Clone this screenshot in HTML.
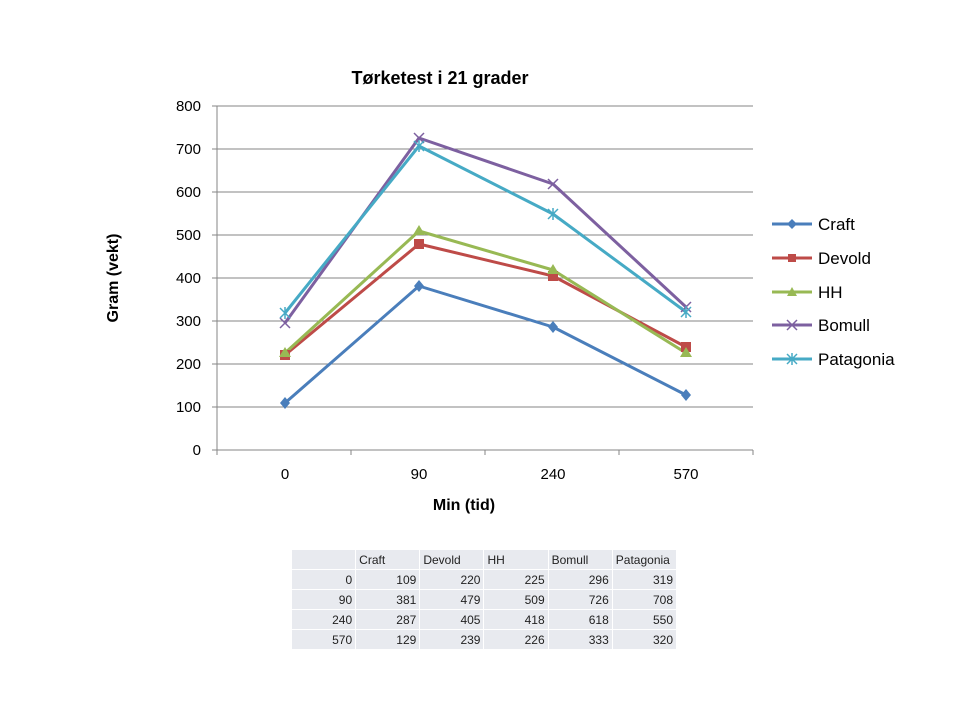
<!DOCTYPE html>
<html><head><meta charset="utf-8"><style>
body{margin:0;background:#fff;width:960px;height:720px;overflow:hidden;font-family:"Liberation Sans",sans-serif}
table{position:absolute;left:291px;top:549px;border-collapse:collapse;font-size:12px;color:#222;table-layout:fixed;width:386px}
td{background:#e8eaef;border:1px solid #fff;height:20px;padding:0 3px;width:64px;text-align:right;box-sizing:border-box}
tr:first-child td{text-align:left}
</style></head><body>
<svg width="960" height="720" style="position:absolute;left:0;top:0" font-family="Liberation Sans, sans-serif">
<text x="440" y="84" text-anchor="middle" font-size="18" font-weight="bold">Tørketest i 21 grader</text>
<g stroke="#868686" stroke-width="1">
<line x1="217" y1="106" x2="753" y2="106"/><line x1="217" y1="149" x2="753" y2="149"/><line x1="217" y1="192" x2="753" y2="192"/><line x1="217" y1="235" x2="753" y2="235"/><line x1="217" y1="278" x2="753" y2="278"/><line x1="217" y1="321" x2="753" y2="321"/><line x1="217" y1="364" x2="753" y2="364"/><line x1="217" y1="407" x2="753" y2="407"/><line x1="212" y1="450" x2="753" y2="450"/>
<line x1="217" y1="106" x2="217" y2="455"/>
<line x1="212" y1="106" x2="217" y2="106"/><line x1="212" y1="149" x2="217" y2="149"/><line x1="212" y1="192" x2="217" y2="192"/><line x1="212" y1="235" x2="217" y2="235"/><line x1="212" y1="278" x2="217" y2="278"/><line x1="212" y1="321" x2="217" y2="321"/><line x1="212" y1="364" x2="217" y2="364"/><line x1="212" y1="407" x2="217" y2="407"/>
<line x1="351" y1="450" x2="351" y2="455"/><line x1="485" y1="450" x2="485" y2="455"/><line x1="619" y1="450" x2="619" y2="455"/><line x1="753" y1="450" x2="753" y2="455"/>
</g>
<g font-size="15" text-anchor="end" fill="#000">
<text x="201" y="111">800</text><text x="201" y="154">700</text><text x="201" y="197">600</text><text x="201" y="240">500</text><text x="201" y="283">400</text><text x="201" y="326">300</text><text x="201" y="369">200</text><text x="201" y="412">100</text><text x="201" y="455">0</text>
</g>
<g font-size="15" text-anchor="middle">
<text x="285" y="479">0</text><text x="419" y="479">90</text><text x="553" y="479">240</text><text x="686" y="479">570</text>
</g>
<text x="464" y="510" text-anchor="middle" font-size="16" font-weight="bold">Min (tid)</text>
<text transform="translate(118,278) rotate(-90)" text-anchor="middle" font-size="16" font-weight="bold">Gram (vekt)</text>
<g fill="none" stroke-width="3" stroke-linejoin="round">
<polyline stroke="#4a7ebb" points="285,403 419,286 553,327 686,395"/>
<polyline stroke="#be4b48" points="285,355 419,244 553,276 686,347"/>
<polyline stroke="#98b954" points="285,353 419,231 553,270 686,353"/>
<polyline stroke="#7d60a0" points="285,323 419,138 553,184 686,307"/>
<polyline stroke="#46aac5" points="285,313 419,146 553,214 686,312"/>
</g>
<g fill="#4a7ebb"><path d="M285 397l5 6-5 6-5-6z"/><path d="M419 280l5 6-5 6-5-6z"/><path d="M553 321l5 6-5 6-5-6z"/><path d="M686 389l5 6-5 6-5-6z"/></g>
<g fill="#be4b48"><rect x="280" y="350" width="10" height="10"/><rect x="414" y="239" width="10" height="10"/><rect x="548" y="271" width="10" height="10"/><rect x="681" y="342" width="10" height="10"/></g>
<g fill="#98b954"><path d="M285 347l6 10h-12z"/><path d="M419 225l6 10h-12z"/><path d="M553 264l6 10h-12z"/><path d="M686 347l6 10h-12z"/></g>
<g stroke="#7d60a0" stroke-width="1.5"><path d="M280 318l10 10M290 318l-10 10M414 133l10 10M424 133l-10 10M548 179l10 10M558 179l-10 10M681 302l10 10M691 302l-10 10"/></g>
<g stroke="#46aac5" stroke-width="1.5"><path d="M280 308l10 10M290 308l-10 10M285 307v12M414 141l10 10M424 141l-10 10M419 140v12M548 209l10 10M558 209l-10 10M553 208v12M681 307l10 10M691 307l-10 10M686 306v12"/></g>
<g font-size="17">
<line x1="772" y1="224" x2="812" y2="224" stroke="#4a7ebb" stroke-width="3"/><path d="M792 219l5 5-5 5-5-5z" fill="#4a7ebb"/><text x="818" y="230">Craft</text>
<line x1="772" y1="258" x2="812" y2="258" stroke="#be4b48" stroke-width="3"/><rect x="788" y="254" width="8" height="8" fill="#be4b48"/><text x="818" y="264">Devold</text>
<line x1="772" y1="292" x2="812" y2="292" stroke="#98b954" stroke-width="3"/><path d="M792 287l5 9h-10z" fill="#98b954"/><text x="818" y="298">HH</text>
<line x1="772" y1="325" x2="812" y2="325" stroke="#7d60a0" stroke-width="3"/><path d="M787 320l10 10M797 320l-10 10" stroke="#7d60a0" stroke-width="1.5"/><text x="818" y="331">Bomull</text>
<line x1="772" y1="359" x2="812" y2="359" stroke="#46aac5" stroke-width="3"/><path d="M787 354l10 10M797 354l-10 10M792 353v12" stroke="#46aac5" stroke-width="1.5"/><text x="818" y="365">Patagonia</text>
</g>
</svg>
<table>
<tr><td></td><td>Craft</td><td>Devold</td><td>HH</td><td>Bomull</td><td>Patagonia</td></tr>
<tr><td>0</td><td>109</td><td>220</td><td>225</td><td>296</td><td>319</td></tr>
<tr><td>90</td><td>381</td><td>479</td><td>509</td><td>726</td><td>708</td></tr>
<tr><td>240</td><td>287</td><td>405</td><td>418</td><td>618</td><td>550</td></tr>
<tr><td>570</td><td>129</td><td>239</td><td>226</td><td>333</td><td>320</td></tr>
</table>
</body></html>
